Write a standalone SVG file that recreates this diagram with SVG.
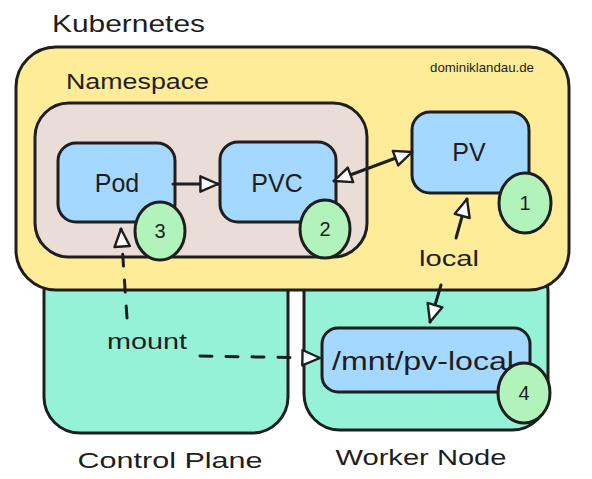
<svg xmlns="http://www.w3.org/2000/svg" width="592" height="479" viewBox="0 0 592 479">
<style>
.box{stroke:#1e1e1e;stroke-width:3;stroke-linejoin:round}
.green{fill:#96f2d7}
.yellow{fill:#ffec99}
.ns{fill:#eaddd7}
.blue{fill:#a5d8ff}
.num{fill:#b2f2bb;stroke:#1e1e1e;stroke-width:3}
.t{font-family:"Liberation Sans",Arial,sans-serif;fill:#1e1e1e}
.lbl{font-size:25px;text-anchor:middle}
.small{font-size:20px;text-anchor:middle}
.edge{fill:none;stroke:#1e1e1e;stroke-width:3;stroke-linecap:round}
.dash{stroke-dasharray:12 14}
</style>
<defs>
<marker id="ah" viewBox="0 0 20 20" refX="18" refY="10" markerWidth="22" markerHeight="22" markerUnits="userSpaceOnUse" orient="auto-start-reverse">
<path d="M2,3 L18,10 L2,17 Z" fill="#ffffff" stroke="#1e1e1e" stroke-width="2.2" stroke-linejoin="round"/>
</marker>
</defs>

<g id="control-plane">
<rect class="box green" x="44" y="255" width="244" height="178" rx="36"/>
<text class="t" x="170" y="468" font-size="22" text-anchor="middle" textLength="185" lengthAdjust="spacingAndGlyphs">Control Plane</text>
</g>
<g id="worker-node">
<rect class="box green" x="304" y="255" width="244" height="175" rx="36"/>
<text class="t" x="421" y="465" font-size="22" text-anchor="middle" textLength="171" lengthAdjust="spacingAndGlyphs">Worker Node</text>
</g>

<g id="kubernetes">
<rect class="box yellow" x="16" y="47" width="553" height="243" rx="40"/>
<text class="t" x="52" y="32" font-size="24" textLength="153" lengthAdjust="spacingAndGlyphs">Kubernetes</text>
<text class="t" x="430" y="72" font-size="13" textLength="104" lengthAdjust="spacingAndGlyphs">dominiklandau.de</text>
</g>

<g id="namespace">
<rect class="box ns" x="35" y="103" width="332" height="154" rx="34"/>
<text class="t" x="66" y="89" font-size="22" textLength="143" lengthAdjust="spacingAndGlyphs">Namespace</text>
</g>

<g id="pod">
<rect class="box blue" x="58" y="143" width="117" height="79" rx="18"/>
<text class="t lbl" x="117" y="192">Pod</text>
</g>
<g id="pvc">
<rect class="box blue" x="220" y="142" width="116" height="80" rx="18"/>
<text class="t lbl" x="277" y="192">PVC</text>
</g>
<g id="pv">
<rect class="box blue" x="412" y="112" width="117" height="81" rx="18"/>
<text class="t lbl" x="469" y="161">PV</text>
</g>
<g id="mnt">
<rect class="box blue" x="322" y="328" width="208" height="64" rx="16"/>
<text class="t lbl" x="423" y="370" textLength="182" lengthAdjust="spacingAndGlyphs">/mnt/pv-local</text>
</g>

<g id="badge-3">
<ellipse class="num" cx="160" cy="231" rx="25" ry="29"/>
<text class="t small" x="160" y="238">3</text>
</g>
<g id="badge-2">
<ellipse class="num" cx="325" cy="229" rx="25" ry="29"/>
<text class="t small" x="325" y="236">2</text>
</g>
<g id="badge-1">
<ellipse class="num" cx="525" cy="203" rx="26" ry="30"/>
<text class="t small" x="525" y="210">1</text>
</g>
<g id="badge-4">
<ellipse class="num" cx="524" cy="393" rx="26" ry="30"/>
<text class="t small" x="524" y="400">4</text>
</g>

<g id="connectors">
<path class="edge" d="M173,184 L218,184" marker-end="url(#ah)"/>
<path class="edge" d="M334,181 L412,152" marker-start="url(#ah)" marker-end="url(#ah)"/>
<path class="edge" d="M456,238 L467,199" marker-end="url(#ah)"/>
<path class="edge" d="M441,285 L430,322" marker-end="url(#ah)"/>
<path class="edge dash" d="M127,318 L121,229" marker-end="url(#ah)"/>
<path class="edge dash" d="M200,356 L320,358" marker-end="url(#ah)"/>
<text class="t" x="107" y="349" font-size="22" textLength="80" lengthAdjust="spacingAndGlyphs">mount</text>
<text class="t" x="419" y="266" font-size="22" textLength="60" lengthAdjust="spacingAndGlyphs">local</text>
</g>
</svg>
